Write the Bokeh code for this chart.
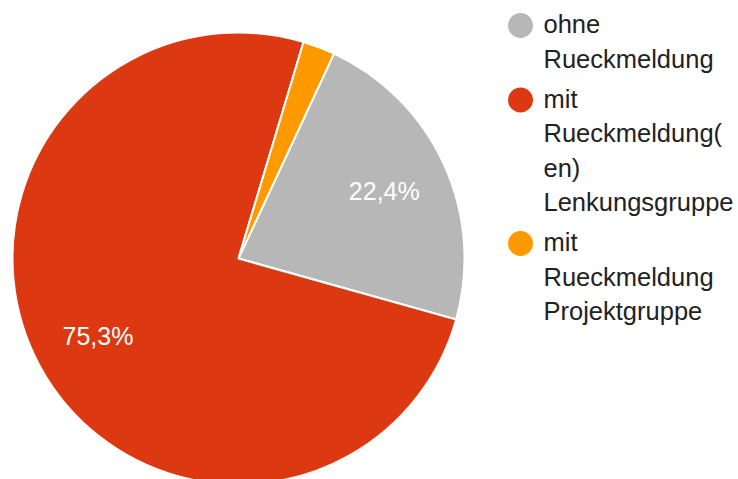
import math
from bokeh.plotting import figure
from bokeh.models import Range1d
from bokeh.core.properties import value
from bokeh.embed import file_html
from bokeh.resources import INLINE

# ---- data ----
categories = ["ohne Rueckmeldung",
              "mit Rueckmeldung(en) Lenkungsgruppe",
              "mit Rueckmeldung Projektgruppe"]
legend_lines = [["ohne", "Rueckmeldung"],
                ["mit", "Rueckmeldung(", "en)", "Lenkungsgruppe"],
                ["mit", "Rueckmeldung", "Projektgruppe"]]
shares = [22.4, 75.3, 2.3]
colors = ["#b7b7b7", "#dc3912", "#ff9900"]

W, H = 738, 479
FONT = "Liberation Sans"

p = figure(width=W, height=H, output_backend="svg", toolbar_location=None,
           x_range=Range1d(0, W), y_range=Range1d(0, H), min_border=0)
p.axis.visible = False
p.grid.visible = False
p.outline_line_color = None
p.background_fill_color = "white"

cx, cy, r = 238, H - 258, 226
start_deg = 25.0
total = sum(shares)

starts, ends, lx, ly, ltxt = [], [], [], [], []
acc = start_deg
for v in shares:
    sweep = v / total * 360.0
    t1, t2 = acc, acc + sweep
    starts.append(math.radians(90 - t2))
    ends.append(math.radians(90 - t1))
    mid = math.radians((t1 + t2) / 2)
    if v > 5:
        lr = 0.71 * r
        lx.append(cx + lr * math.sin(mid))
        ly.append(cy + lr * math.cos(mid))
        ltxt.append(f"{v:.1f}".replace(".", ",") + "%")
    acc = t2

p.wedge(x=cx, y=cy, radius=r, start_angle=starts, end_angle=ends,
        fill_color=colors, line_color="white", line_width=2)
p.text(x=lx, y=ly, text=ltxt, text_color="white", text_font=value(FONT),
       text_font_size="25px", text_align="center", text_baseline="middle")

# ---- legend ----
pitch = 34.5
circle_y = 25
for lines, col in zip(legend_lines, colors):
    p.scatter(x=[520], y=[H - circle_y], size=25, marker="circle",
              fill_color=col, line_color=None)
    ys = [H - (circle_y - 1.5 + i * pitch) for i in range(len(lines))]
    p.text(x=[543] * len(lines), y=ys, text=lines, text_color="#222222",
           text_font=value(FONT), text_font_size="25.5px",
           text_align="left", text_baseline="alphabetic")
    last = circle_y + 8.5 + (len(lines) - 1) * pitch
    circle_y = last + 31.5

open("out.html", "w").write(file_html(p, INLINE))
